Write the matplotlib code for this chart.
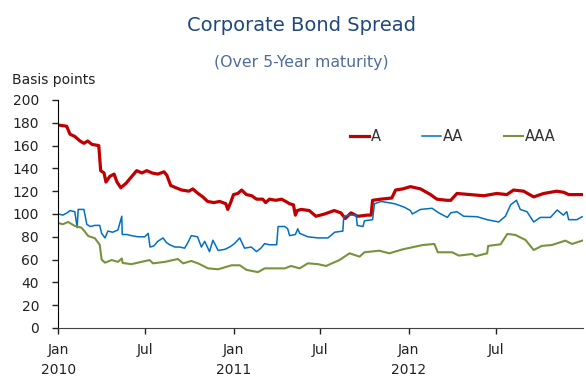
import matplotlib
matplotlib.use('Agg')
from matplotlib import pyplot as plt
import numpy as np

# A rated spread (basis points)
a_dates = ['2010-01-01', '2010-01-18', '2010-01-25', '2010-02-04', '2010-02-15', '2010-02-23',
           '2010-03-03', '2010-03-12', '2010-03-26', '2010-03-30', '2010-04-06', '2010-04-10',
           '2010-04-18', '2010-04-27', '2010-05-03', '2010-05-11', '2010-05-22', '2010-06-03',
           '2010-06-13', '2010-06-24', '2010-07-04', '2010-07-15', '2010-07-27', '2010-08-09',
           '2010-08-15', '2010-08-23', '2010-09-03', '2010-09-15', '2010-09-30', '2010-10-08',
           '2010-10-19', '2010-10-29', '2010-11-08', '2010-11-21', '2010-12-03', '2010-12-16',
           '2010-12-20', '2010-12-26', '2011-01-01', '2011-01-10', '2011-01-18', '2011-01-28',
           '2011-02-08', '2011-02-18', '2011-03-03', '2011-03-09', '2011-03-17', '2011-03-30',
           '2011-04-11', '2011-04-20', '2011-04-28', '2011-05-06', '2011-05-10', '2011-05-14',
           '2011-05-22', '2011-06-08', '2011-06-22', '2011-07-10', '2011-07-30', '2011-08-13',
           '2011-08-22', '2011-09-03', '2011-09-17', '2011-10-07', '2011-10-15', '2011-10-18',
           '2011-11-04', '2011-11-27', '2011-12-05', '2011-12-20', '2012-01-05', '2012-01-26',
           '2012-02-16', '2012-02-29', '2012-03-21', '2012-03-29', '2012-04-11', '2012-05-09',
           '2012-06-06', '2012-07-03', '2012-07-24', '2012-08-07', '2012-08-28', '2012-09-18',
           '2012-10-09', '2012-11-05', '2012-11-20', '2012-11-30', '2012-12-28']
a_vals = [178, 177, 170, 168, 164, 162,
          164, 161, 160, 138, 136, 128,
          133, 135, 128, 123, 127, 133,
          138, 136, 138, 136, 135, 137,
          134, 125, 123, 121, 120, 122,
          118, 115, 111, 110, 111, 109,
          104, 110, 117, 118, 121, 117,
          116, 113, 113, 110, 113, 112,
          113, 111, 109, 108, 99, 103,
          104, 103, 98, 100, 103, 101,
          96, 101, 98, 99, 99, 112,
          113, 114, 121, 122, 124, 122,
          117, 113, 112, 112, 118, 117,
          116, 118, 117, 121, 120, 115,
          118, 120, 119, 117, 117]

# AA rated spread
aa_dates = ['2010-01-01', '2010-01-10', '2010-01-19', '2010-01-25', '2010-02-04', '2010-02-09',
            '2010-02-11', '2010-02-23', '2010-03-01', '2010-03-08', '2010-03-18', '2010-03-28',
            '2010-04-01', '2010-04-08', '2010-04-14', '2010-04-24', '2010-05-05', '2010-05-13',
            '2010-05-14', '2010-05-24', '2010-06-02', '2010-06-16', '2010-06-30', '2010-07-07',
            '2010-07-11', '2010-07-19', '2010-07-27', '2010-08-07', '2010-08-14', '2010-08-21',
            '2010-09-01', '2010-09-11', '2010-09-21', '2010-09-28', '2010-10-05', '2010-10-18',
            '2010-10-26', '2010-11-02', '2010-11-12', '2010-11-19', '2010-11-30', '2010-12-14',
            '2010-12-24', '2011-01-03', '2011-01-14', '2011-01-24', '2011-02-07', '2011-02-18',
            '2011-02-27', '2011-03-07', '2011-03-17', '2011-04-01', '2011-04-04', '2011-04-18',
            '2011-04-24', '2011-04-28', '2011-05-10', '2011-05-15', '2011-05-19', '2011-06-05',
            '2011-06-26', '2011-07-17', '2011-07-31', '2011-08-17', '2011-08-19', '2011-08-31',
            '2011-09-14', '2011-09-16', '2011-09-28', '2011-10-01', '2011-10-18', '2011-10-22',
            '2011-11-05', '2011-12-03', '2011-12-23', '2012-01-05', '2012-01-09', '2012-01-26',
            '2012-02-19', '2012-03-04', '2012-03-22', '2012-03-29', '2012-04-11', '2012-04-25',
            '2012-05-23', '2012-06-13', '2012-07-07', '2012-07-21', '2012-08-01', '2012-08-13',
            '2012-08-21', '2012-09-04', '2012-09-18', '2012-10-02', '2012-10-23', '2012-11-06',
            '2012-11-19', '2012-11-26', '2012-11-30', '2012-12-17', '2012-12-28']
aa_vals = [100, 99, 101, 103, 102, 88,
           104, 104, 91, 89, 90, 90,
           83, 79, 85, 84, 86, 98,
           82, 82, 81, 80, 80, 83,
           71, 72, 76, 79, 75, 73,
           71, 71, 70, 75, 81, 80,
           71, 76, 67, 77, 68, 69,
           71, 74, 79, 70, 71, 67,
           70, 74, 73, 73, 89, 89,
           87, 81, 82, 87, 83, 80,
           79, 79, 84, 85, 98, 99,
           99, 90, 89, 94, 95, 109,
           111, 109, 106, 103, 100, 104,
           105, 101, 97, 101, 102, 98,
           97.6, 95, 93, 98, 108, 112,
           104, 102, 93, 97, 97, 103.5,
           99, 102, 95, 95, 97.6]

# AAA rated spread
aaa_dates = ['2010-01-01', '2010-01-10', '2010-01-21', '2010-02-04', '2010-02-18', '2010-02-25',
             '2010-03-04', '2010-03-18', '2010-03-28', '2010-04-01', '2010-04-08', '2010-04-22',
             '2010-05-05', '2010-05-13', '2010-05-15', '2010-06-02', '2010-06-23', '2010-07-10',
             '2010-07-17', '2010-08-11', '2010-09-07', '2010-09-18', '2010-10-05', '2010-10-19',
             '2010-11-09', '2010-11-30', '2010-12-28', '2011-01-14', '2011-01-28', '2011-02-21',
             '2011-03-07', '2011-04-18', '2011-05-01', '2011-05-19', '2011-06-05', '2011-06-26',
             '2011-07-13', '2011-08-10', '2011-08-31', '2011-09-21', '2011-10-01', '2011-11-01',
             '2011-11-22', '2011-12-20', '2012-01-31', '2012-02-24', '2012-03-02', '2012-04-01',
             '2012-04-15', '2012-05-13', '2012-05-20', '2012-06-13', '2012-06-15', '2012-07-11',
             '2012-07-25', '2012-08-11', '2012-09-01', '2012-09-18', '2012-10-05', '2012-10-26',
             '2012-11-23', '2012-12-07', '2012-12-28']
aaa_vals = [92, 91, 93, 89.5, 88, 84.5,
            80.7, 78.7, 73, 60, 57.3, 59.6,
            58, 61, 57, 56, 58, 59.6,
            56.7, 58, 60.5, 56.7, 58.8, 56.7,
            52.3, 51.5, 55, 55, 51, 49,
            52.3, 52.3, 54.4, 52.3, 56.7, 56,
            54.4, 59.6, 65.5, 62.6, 66.4, 67.8,
            65.5, 69, 72.8, 73.7, 66.4, 66.4,
            63.5, 64.9, 63, 65.5, 72, 73.4,
            82.5, 81.6, 77.2, 68.4, 72, 72.8,
            76.6, 73.7, 76.6]

series = [('A', a_dates, a_vals, '#c00000', 2.3),
          ('AA', aa_dates, aa_vals, '#0070c0', 1.1),
          ('AAA', aaa_dates, aaa_vals, '#77933c', 1.5)]

tick_dates = ['2010-01-01', '2010-07-01', '2011-01-01', '2011-07-01', '2012-01-01', '2012-07-01']
tick_labels = ['Jan\n2010', 'Jul', 'Jan\n2011', 'Jul', 'Jan\n2012', 'Jul']

plt.rcParams['font.family'] = 'DejaVu Sans'
fig = plt.figure(figsize=(5.86, 3.79), dpi=100)
ax = fig.add_axes([0.0998, 0.1346, 0.8952, 0.6016])

for name, d, v, c, lw in series:
    ax.plot(np.array(d, dtype='datetime64[D]'), v, color=c, lw=lw, label=name)

ax.set_ylim(0, 200)
ax.set_yticks(np.arange(0, 201, 20))
ax.set_xlim(np.datetime64('2010-01-01'), np.datetime64('2012-12-30'))
ax.set_xticks(np.array(tick_dates, dtype='datetime64[D]'))
ax.set_xticklabels(tick_labels)
for lab in ax.get_xticklabels():
    lab.set_linespacing(1.5)

ax.spines['top'].set_visible(False)
ax.spines['right'].set_visible(False)
ax.spines['bottom'].set_color('#404040')
ax.tick_params(axis='y', direction='out', length=4, width=1, pad=10, labelsize=10, colors='#222222')
ax.tick_params(axis='x', direction='out', length=4, width=1, pad=7, labelsize=10, colors='#222222')

ax.legend(loc='center left', bbox_to_anchor=(0.556, 0.839), ncol=3, frameon=False,
          handlelength=1.3, handletextpad=0.1, columnspacing=2.85, borderpad=0,
          borderaxespad=0, fontsize=10.5, labelcolor='#333333')

fig.text(0.515, 0.934, 'Corporate Bond Spread', ha='center', va='center',
         fontsize=14, color='#1f497d')
fig.text(0.515, 0.836, '(Over 5-Year maturity)', ha='center', va='center',
         fontsize=11.3, color='#4f6d9a')
fig.text(0.02, 0.79, 'Basis points', ha='left', va='center', fontsize=10, color='#222222')

fig.savefig('out.png', dpi=100)
